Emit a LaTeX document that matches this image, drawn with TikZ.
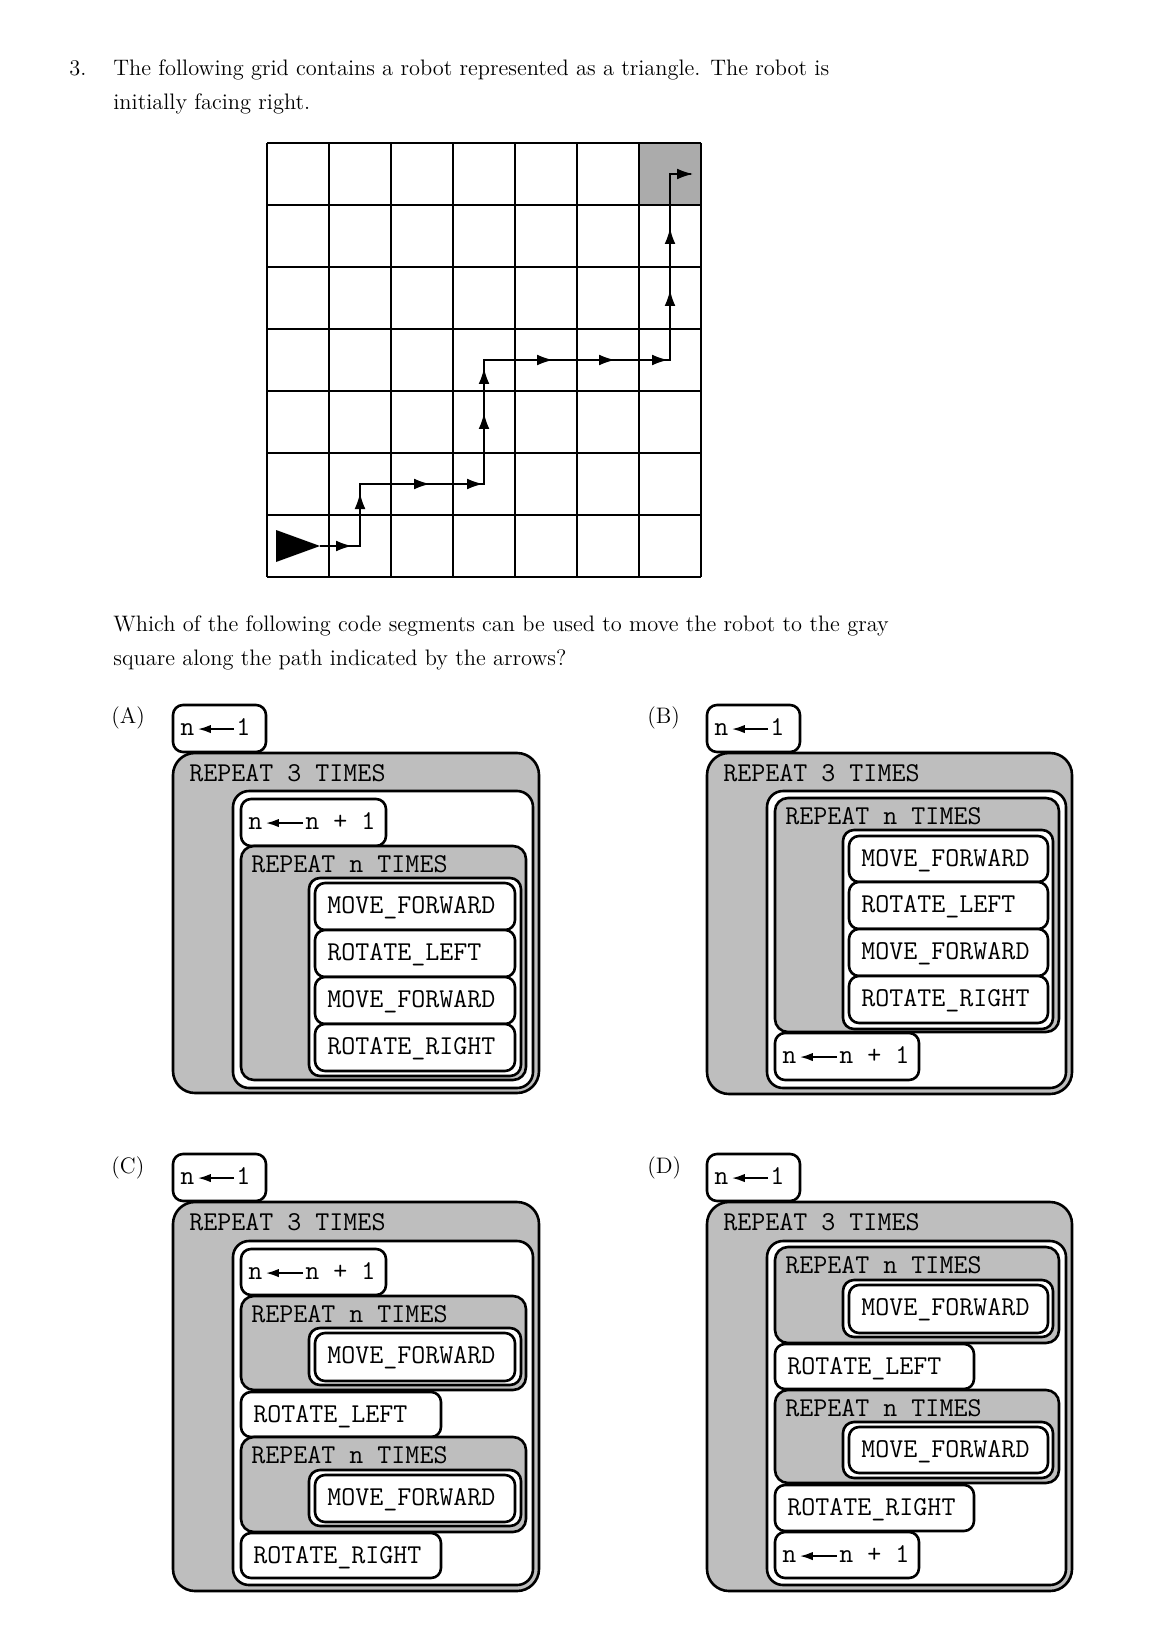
\documentclass[tikz,border=0pt]{standalone}
\usetikzlibrary{arrows.meta}
\definecolor{blockgray}{gray}{0.745}
\definecolor{cellgray}{gray}{0.67}
% one statement box with its text
\newcommand\stmtbox[6]{\draw[box] (#2,#3) rectangle (#4,#5);
  \node[code] (#1) at (#2+12,#3+30) {#6};}
% assignment box: n <- rhs
\newcommand\asgbox[7]{\draw[box] (#2,#3) rectangle (#4,#5);
  \node[code] (#1l) at (#2+7,#3+30) {n};
  \node[code] (#1r) at (#2+#6,#3+30) {#7};
  \path (#1r.west |- #1l.east) coordinate (#1e);
  \draw[asg] ([xshift=-1pt]#1e) -- ([xshift=1.5pt]#1l.east);}
% repeat block with its header
\newcommand\repblk[6]{\draw[blk] (#2,#3) rectangle (#4,#5);
  \node[code] (#1) at (#2+10,#3+26) {#6};}
\begin{document}
\begin{tikzpicture}[x=0.5pt,y=-0.5pt,>={Latex[length=8pt,width=5.4pt]},
  txt/.style={anchor=base west,inner sep=0pt,font=\fontsize{11.2}{17}\selectfont},
  code/.style={anchor=base west,inner sep=0pt,font=\fontsize{13.6}{14}\selectfont\ttfamily},
  box/.style={draw,line width=1.3pt,fill=white,rounded corners=5pt},
  body/.style={box,rounded corners=5.5pt},
  wbox/.style={box,rounded corners=8pt},
  blk/.style={box,fill=blockgray,rounded corners=6.5pt},
  outer/.style={box,fill=blockgray,rounded corners=11pt},
  asg/.style={->,line width=1pt,>={Latex[length=6.5pt,width=4.2pt]}},
  gridline/.style={line width=1.3pt},
  route/.style={line width=0.8pt}]
\useasboundingbox (0,0) rectangle (1164,1652);

% question text
\node[txt] (num) at (69,76) {3.};
\node[txt] (q1) at (113,76) {The following grid contains a robot represented as a triangle. The robot is};
\node[txt] (q2) at (113,110) {initially facing right.};
\node[txt] (q3) at (113,631) {Which of the following code segments can be used to move the robot to the gray};
\node[txt] (q4) at (113,665) {square along the path indicated by the arrows?};

% grid
\fill[cellgray] (639,143) rectangle (701,205);
\foreach \i in {0,...,7} {
  \draw[gridline] (267+62*\i,143) -- (267+62*\i,577);
  \draw[gridline] (267,143+62*\i) -- (701,143+62*\i);
}
\fill (276,530) -- (276,562) -- (320,546) -- cycle;
\draw[route] (320,546) -- (360,546) -- (360,484) -- (484,484) -- (484,360) -- (670,360) -- (670,174) -- (690,174);
\foreach \x/\y/\dx/\dy in {352/546/2/0,360/493/0/-2,430/484/2/0,483/484/2/0,484/413/0/-2,484/368/0/-2,
  553/360/2/0,615/360/2/0,668/360/2/0,670/290/0/-2,670/228/0/-2,693/174/2/0}
  \draw[route,->] (\x-\dx,\y-\dy) -- (\x,\y);

% (A)
\node[txt] (la) at (111,723) {(A)};
\asgbox{a0}{173}{705}{266}{752}{63}{1}
\draw[outer] (173,753) rectangle (539,1093);
\node[code] (a3) at (189,781) {REPEAT 3 TIMES};
\draw[wbox] (233,791) rectangle (533,1088);
\asgbox{a1}{241}{799}{386}{846}{64}{n + 1}
\repblk{an}{241}{846}{526}{1080}{REPEAT n TIMES}
\draw[body] (309,878) rectangle (521,1076);
\stmtbox{am1}{315}{883}{515}{930}{MOVE\_FORWARD}
\stmtbox{arl}{315}{930}{515}{977}{ROTATE\_LEFT}
\stmtbox{am2}{315}{977}{515}{1024}{MOVE\_FORWARD}
\stmtbox{arr}{315}{1024}{515}{1071}{ROTATE\_RIGHT}

% (B)
\node[txt] (lb) at (647,723) {(B)};
\asgbox{b0}{707}{705}{800}{752}{63}{1}
\draw[outer] (707,753) rectangle (1072,1094);
\node[code] (b3) at (723,781) {REPEAT 3 TIMES};
\draw[wbox] (767,791) rectangle (1066,1088);
\repblk{bn}{775}{798}{1059}{1032}{REPEAT n TIMES}
\draw[body] (843,830) rectangle (1053,1029);
\stmtbox{bm1}{849}{836}{1048}{882}{MOVE\_FORWARD}
\stmtbox{brl}{849}{882}{1048}{929}{ROTATE\_LEFT}
\stmtbox{bm2}{849}{929}{1048}{976}{MOVE\_FORWARD}
\stmtbox{brr}{849}{976}{1048}{1023}{ROTATE\_RIGHT}
\asgbox{b1}{775}{1033}{919}{1080}{64}{n + 1}

% (C)
\node[txt] (lc) at (111,1173) {(C)};
\asgbox{c0}{173}{1154}{266}{1201}{63}{1}
\draw[outer] (173,1202) rectangle (539,1591);
\node[code] (c3) at (189,1230) {REPEAT 3 TIMES};
\draw[wbox] (233,1241) rectangle (533,1585);
\asgbox{c1}{241}{1249}{386}{1295}{64}{n + 1}
\repblk{cn1}{241}{1296}{526}{1390}{REPEAT n TIMES}
\draw[body] (309,1328) rectangle (521,1385);
\stmtbox{cm1}{315}{1333}{515}{1381}{MOVE\_FORWARD}
\stmtbox{crl}{241}{1392}{441}{1437}{ROTATE\_LEFT}
\repblk{cn2}{241}{1437}{526}{1532}{REPEAT n TIMES}
\draw[body] (309,1470) rectangle (521,1526);
\stmtbox{cm2}{315}{1475}{515}{1522}{MOVE\_FORWARD}
\stmtbox{crr}{241}{1533}{441}{1578}{ROTATE\_RIGHT}

% (D)
\node[txt] (ld) at (647,1173) {(D)};
\asgbox{d0}{707}{1154}{800}{1201}{63}{1}
\draw[outer] (707,1202) rectangle (1072,1591);
\node[code] (d3) at (723,1230) {REPEAT 3 TIMES};
\draw[wbox] (767,1241) rectangle (1066,1585);
\repblk{dn1}{775}{1247}{1059}{1343}{REPEAT n TIMES}
\draw[body] (843,1280) rectangle (1053,1337);
\stmtbox{dm1}{849}{1285}{1048}{1333}{MOVE\_FORWARD}
\stmtbox{drl}{775}{1344}{974}{1389}{ROTATE\_LEFT}
\repblk{dn2}{775}{1390}{1059}{1483}{REPEAT n TIMES}
\draw[body] (843,1422) rectangle (1053,1478);
\stmtbox{dm2}{849}{1427}{1048}{1473}{MOVE\_FORWARD}
\stmtbox{drr}{775}{1485}{974}{1531}{ROTATE\_RIGHT}
\asgbox{d1}{775}{1532}{919}{1578}{64}{n + 1}
\end{tikzpicture}
\end{document}
